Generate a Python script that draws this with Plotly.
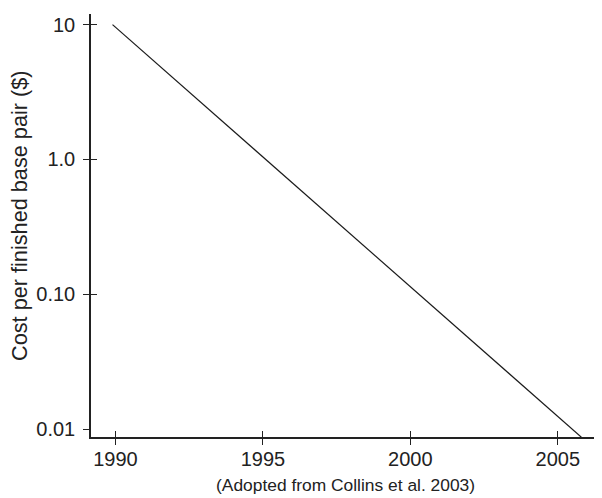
import plotly.graph_objects as go

years = [1989.9, 2005.8]
cost = [10, 0.0087]
ytick_vals = [10, 1, 0.1, 0.01]
ytick_text = ["10", "1.0", "0.10", "0.01"]
xtick_vals = [1990, 1995, 2000, 2005]
xtick_text = ["1990", "1995", "2000", "2005"]
y_title = "Cost per finished base pair ($)"
caption = "(Adopted from Collins et al. 2003)"

font = "Liberation Sans, Arial, sans-serif"
xr = [1989.17, 2006.5]
yr = [-2.059, 1.079]

fig = go.Figure()
fig.add_trace(go.Scatter(x=years, y=cost, mode="lines",
                         line=dict(color="#1a1a1a", width=1.2),
                         showlegend=False, hoverinfo="skip"))
# overlay axes carrying the inner half of the crossing ticks
fig.add_trace(go.Scatter(x=[None], y=[None], xaxis="x2", yaxis="y2",
                         showlegend=False, hoverinfo="skip"))

fig.update_layout(
    width=594, height=490,
    margin=dict(l=83, r=0, t=6, b=61),
    paper_bgcolor="white", plot_bgcolor="white",
    font=dict(family=font, size=20, color="#222"),
    xaxis=dict(range=xr, tickvals=xtick_vals, ticktext=xtick_text,
               ticks="outside", ticklen=6, tickwidth=1.2, tickcolor="#222",
               showline=True, linecolor="#222", linewidth=1.5,
               showgrid=False, zeroline=False, tickfont=dict(size=20),
               ticklabelstandoff=-3),
    yaxis=dict(type="log", range=yr, tickvals=ytick_vals, ticktext=ytick_text,
               ticks="outside", ticklen=6, tickwidth=1.2, tickcolor="#222",
               showline=True, linecolor="#222", linewidth=1.5,
               showgrid=False, zeroline=False, tickfont=dict(size=20),
               ticklabelstandoff=4),
    xaxis2=dict(range=xr, overlaying="x", tickvals=xtick_vals, ticks="inside",
                ticklen=6, tickwidth=1.2, tickcolor="#222", showticklabels=False,
                showgrid=False, zeroline=False, showline=False),
    yaxis2=dict(type="log", range=yr, overlaying="y", tickvals=ytick_vals[:3],
                ticks="inside", ticklen=6, tickwidth=1.2, tickcolor="#222",
                showticklabels=False, showgrid=False, zeroline=False, showline=False),
    annotations=[
        dict(text=y_title, xref="paper", yref="paper", x=0, xshift=-71,
             y=0.5225, textangle=-90, xanchor="center", yanchor="middle",
             showarrow=False, font=dict(size=21.7)),
        dict(text=caption, xref="paper", yref="paper", x=0.498, y=0,
             yshift=-48, yanchor="middle", xanchor="center", showarrow=False,
             font=dict(size=17.4)),
    ],
)
fig.write_html("out.html")
